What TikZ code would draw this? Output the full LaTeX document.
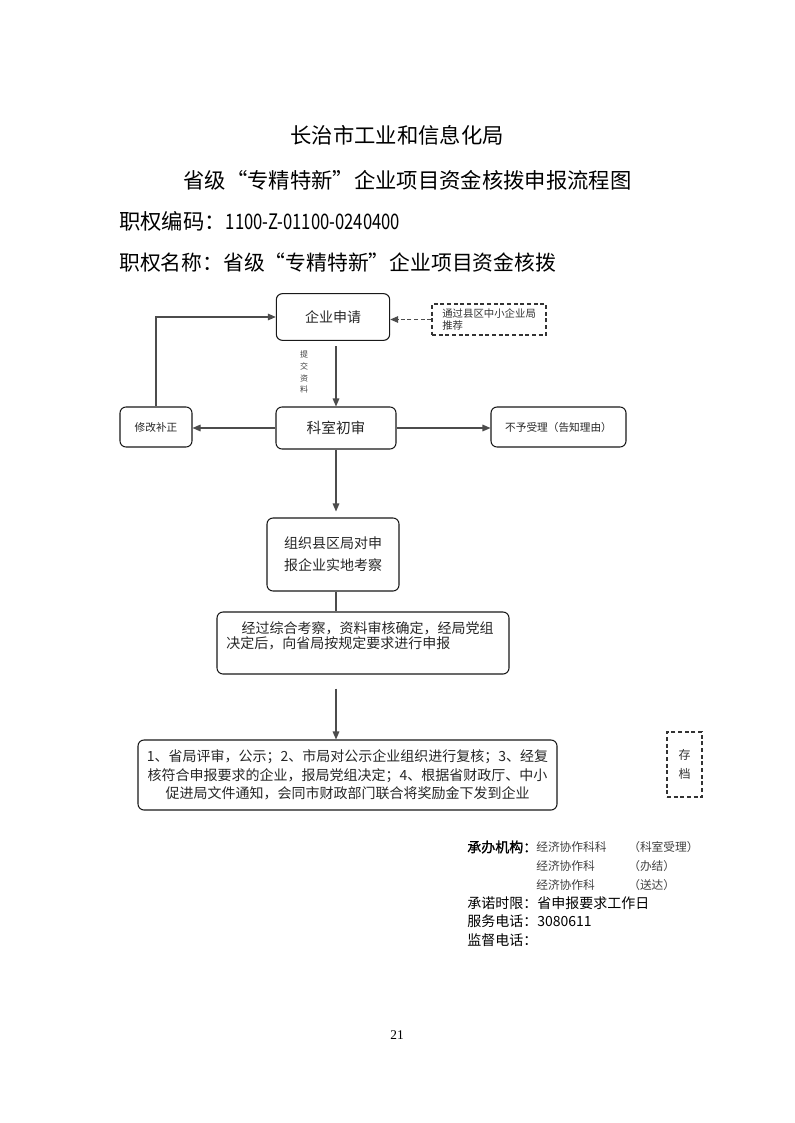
\documentclass[tikz,border=0pt]{standalone}
\usepackage{fontspec}
\usepackage{graphicx}
\setmainfont{Liberation Serif}
\newfontfamily\hei{Noto Sans CJK SC}
\newfontfamily\heib{Noto Sans CJK SC}[FakeBold=1.2]
\usetikzlibrary{arrows.meta}
\newcommand\setfs[2]{\fontsize{#1}{#2}\selectfont}

\begin{document}
\begin{tikzpicture}[x=0.75pt, y=-0.75pt,
	box/.style = {draw=black!90, rounded corners=4.5pt, line width=0.8pt, align=center, inner sep=2pt, text=black!85, font=\hei\setfs{10.5}{15}},
	dbox/.style = {draw=black!80, dash pattern=on 3pt off 2pt, line width=0.8pt, align=center, inner sep=2pt, text=black!80},
	small/.style = {font=\hei\setfs{8}{10}},
	arr/.style = {-{Triangle[length=6pt,width=5pt]}, draw=black!70, line width=0.8pt},
	plain/.style = {draw=black!70, line width=0.8pt},
	title/.style = {inner sep=0pt, font=\hei\setfs{16}{18}},
	info/.style = {anchor=west, inner sep=0pt, font=\hei\setfs{10.5}{12}},
	infot/.style = {anchor=west, inner sep=0pt, text=black!75, font=\hei\setfs{8.8}{10}}]
	\useasboundingbox (0,0) rectangle (794,1123);

	\node[title] (jigou) at (397,135) {长治市工业和信息化局};
	\node[title] (liucheng) at (407.5,180) {省级“专精特新”企业项目资金核拨申报流程图};
	\node[title, anchor=west] (bianma) at (119,221) {职权编码：\scalebox{0.78}[1]{1100-Z-01100-0240400}};
	\node[title, anchor=west, font=\hei\setfs{15.6}{18}] (mingcheng) at (119,263) {职权名称：省级“专精特新”企业项目资金核拨};

	\node[box, minimum width=85pt, minimum height=35pt] (shenqing) at (333,317) {企业申请};
	\node[dbox, align=left, text width=70pt, inner xsep=7.75pt, minimum height=23.25pt, font=\hei\setfs{7.8}{8.5}] (tuijian) at (489,319.5) {通过县区中小企业局\\推荐};
	\node[box, minimum width=90pt, minimum height=31.5pt, font=\hei\setfs{11}{13}] (chushen) at (336,428) {科室初审};
	\node[box, small, minimum width=54pt, minimum height=30pt] (xiugai) at (156,427) {修改补正};
	\node[box, small, minimum width=101.25pt, minimum height=30pt] (buyu) at (558.5,427) {不予受理（告知理由）};
	\node[box, minimum width=99pt, minimum height=54.75pt, font=\hei\setfs{10.5}{16.5}] (kaocha) at (333,554.5) {组织县区局对申\\报企业实地考察};
	\node[box, align=left, text width=205pt, inner xsep=7pt, minimum height=46.5pt, font=\hei\setfs{10.5}{11.5}] (shenbao) at (363,643) {\hspace*{1.1em}经过综合考察，资料审核确定，经局党组\\决定后，向省局按规定要求进行申报\\\mbox{}};
	\node[box, minimum width=314.25pt, minimum height=52.5pt, font=\hei\setfs{10.5}{14}] (pingshen) at (347.5,775) {1、省局评审，公示；2、市局对公示企业组织进行复核；3、经复\\核符合申报要求的企业，报局党组决定；4、根据省财政厅、中小\\促进局文件通知，会同市财政部门联合将奖励金下发到企业};
	\node[dbox, minimum width=26.25pt, minimum height=48.75pt, font=\hei\setfs{9}{14.25}] (cundang) at (684.5,764.5) {存\\档};

	\draw[arr, dash pattern=on 3pt off 2pt] (tuijian.west) -- (tuijian.west -| shenqing.east);
	\draw[arr, shorten <=4pt] (chushen.north |- shenqing.south) -- (chushen.north)
		node[pos=0.48, xshift=-24pt, align=center, inner sep=0pt, text=black!75, font=\hei\setfs{6}{8.75}] (tijiao) {提\\交\\资\\料};
	\draw[arr] (chushen.west) -- (chushen.west -| xiugai.east);
	\draw[arr] (chushen.east) -- (chushen.east -| buyu.west);
	\draw[arr] (xiugai.north) |- (shenqing.west);
	\draw[arr, shorten >=4.5pt] (chushen.south) -- (chushen.south |- kaocha.north);
	\draw[plain] (chushen.south |- kaocha.south) -- (chushen.south |- shenbao.north);
	\draw[arr, shorten <=10.5pt] (chushen.south |- shenbao.south) -- (chushen.south |- pingshen.north);

	\node[info, font=\heib\setfs{10.5}{12}] (chengban) at (467,847) {承办机构：};
	\node[infot] (keshi1) at (536,847) {经济协作科科};
	\node[infot] (shouli) at (628,847) {（科室受理）};
	\node[infot] (keshi2) at (536,866) {经济协作科};
	\node[infot] (banjie) at (628,866) {（办结）};
	\node[infot] (keshi3) at (536,885) {经济协作科};
	\node[infot] (songda) at (628,885) {（送达）};
	\node[info] (shixian) at (467,903) {承诺时限：省申报要求工作日};
	\node[info] (fuwu) at (467,921) {服务电话：3080611};
	\node[info] (jiandu) at (467,940) {监督电话：};

	\node[font=\setfs{10}{12}] (yema) at (397,1035) {21};
\end{tikzpicture}
\end{document}
